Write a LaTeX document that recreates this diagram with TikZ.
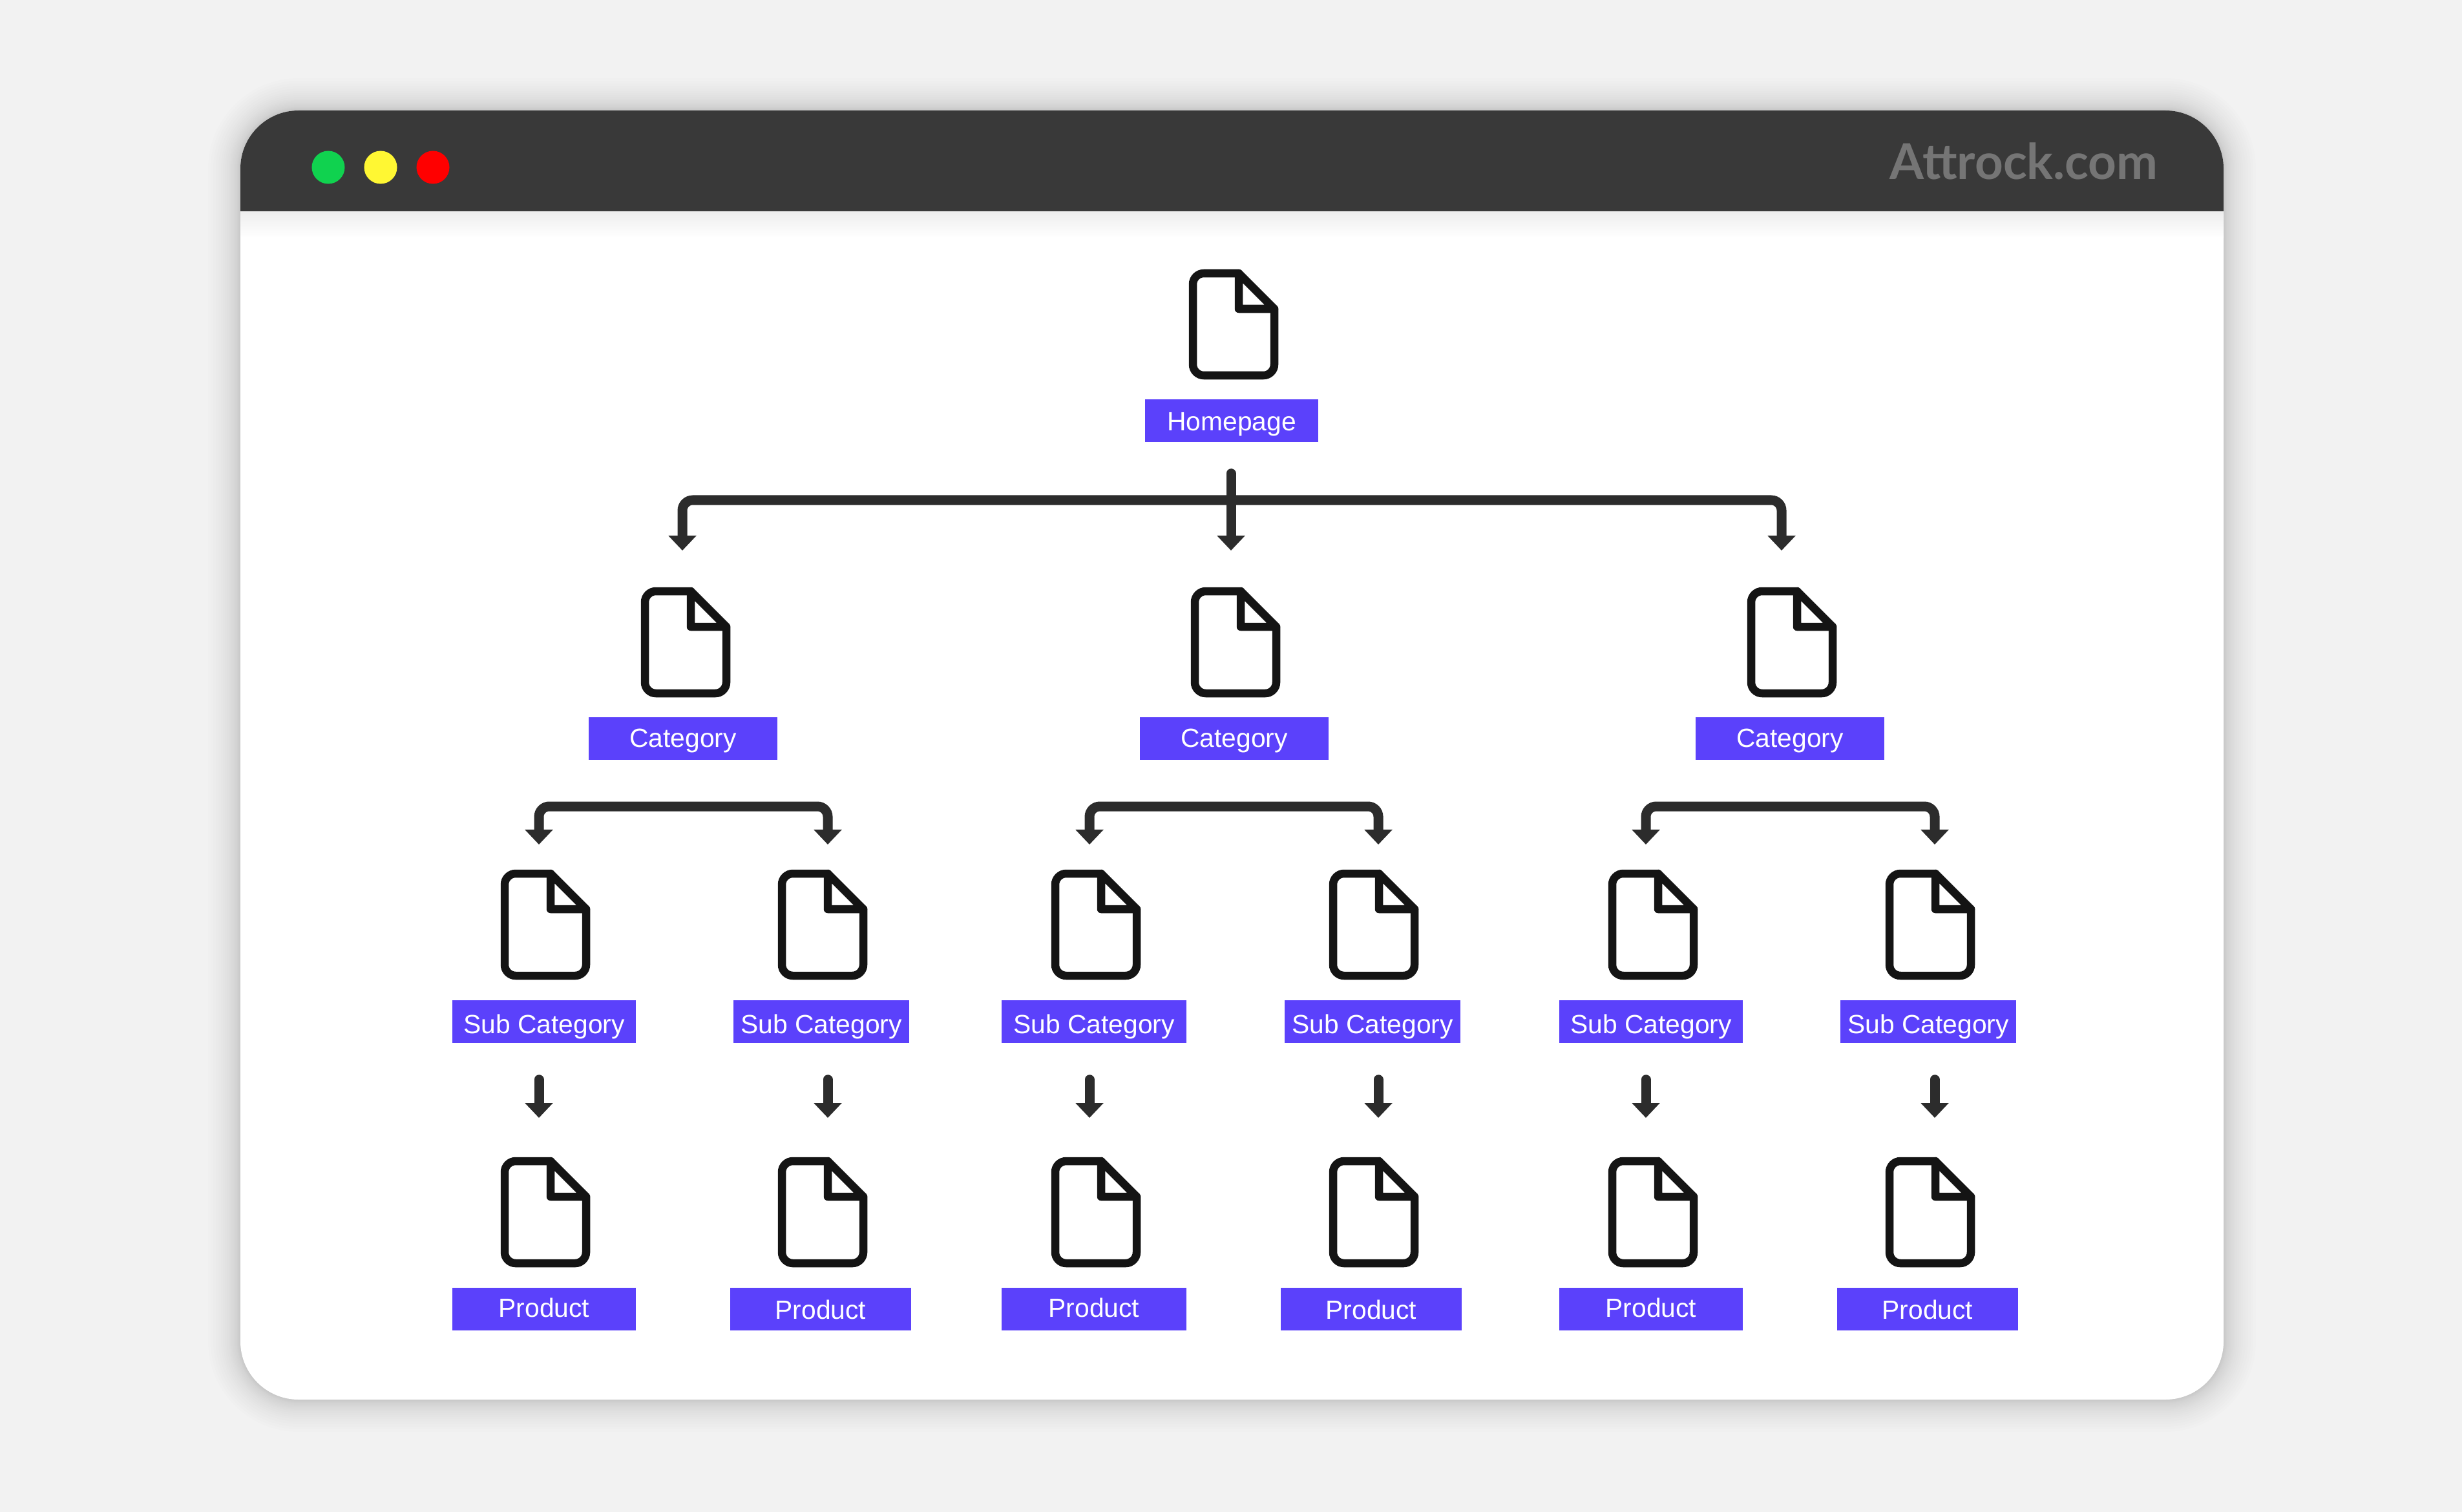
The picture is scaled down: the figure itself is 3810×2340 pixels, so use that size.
\documentclass[tikz,border=0pt]{standalone}
\usepackage{fontspec}
\setmainfont{Liberation Sans}
\newfontfamily\brandfont{Lato}
\usetikzlibrary{arrows.meta, positioning}
\definecolor{pagegray}{HTML}{F2F2F2}
\definecolor{barblack}{HTML}{393939}
\definecolor{brandgray}{HTML}{757575}
\definecolor{labelblue}{HTML}{5B41FB}
\definecolor{linegray}{HTML}{2C2C2C}
\definecolor{iconblack}{HTML}{141414}
\definecolor{dotgreen}{HTML}{10D24F}
\definecolor{dotyellow}{HTML}{FFF733}
\definecolor{dotred}{HTML}{FF0000}
\tikzset{
    labelbox/.style={fill=labelblue, text=white, inner sep=0pt, minimum height=0.66cm, font=\fontsize{11.6pt}{13pt}\selectfont, text height=0.33cm, text depth=0.02cm},
    catbox/.style={labelbox, minimum width=2.92cm, text height=0.30cm, text depth=0.04cm},
    subbox/.style={labelbox, text height=0.38cm, text depth=0.02cm},
    flow/.style={draw=linegray, line width=0.15cm, rounded corners=0.16cm, line cap=round, -{Triangle[width=0.42cm,length=0.23cm]}},
    flowboth/.style={flow, {Triangle[width=0.42cm,length=0.23cm]}-{Triangle[width=0.42cm,length=0.23cm]}},
    dot/.style={circle, minimum size=0.51cm, inner sep=0pt},
    fileicon/.pic={
        \draw[iconblack, line width=0.125cm, line cap=round, rounded corners=0.17cm] (63,-24) -- (63,79) -- (-63,79) -- (-63,-79) -- (8,-79);
        \draw[iconblack, line width=0.125cm, line join=round] (63,-24) -- (8,-79) -- (8,-24) -- cycle;
    }
}
\begin{document}
\begin{tikzpicture}[x=0.01cm, y=-0.01cm]
    \useasboundingbox (0,0) rectangle (3810,2340);
    \fill[pagegray] (0,0) rectangle (3810,2340);

    % window with its soft shadow
    \foreach \s [evaluate=\s as \r using 0.9+0.01*\s] in {1,2,3,4,5,6,8,10,12,14,16,18,21,24,27,30,34,38,42,46,50}
        \fill[black, opacity=0.0075, rounded corners=\r cm] (372-\s,171-\s) rectangle (3441+\s,2166+\s);
    \fill[white, rounded corners=0.9cm] (372,171) rectangle (3441,2166);
    \shade[top color=black!7, bottom color=white] (372,327) rectangle (3441,368);
    \begin{scope}
        \clip (372,171) rectangle (3441,327);
        \fill[barblack, rounded corners=0.9cm] (372,171) rectangle (3441,600);
    \end{scope}
    \node[dot, fill=dotgreen] (green) at (508,259) {};
    \node[dot, fill=dotyellow] (yellow) at (589,259) {};
    \node[dot, fill=dotred] (red) at (670,259) {};
    \node[text=brandgray, inner sep=0pt, font=\brandfont\bfseries\fontsize{21.7pt}{24pt}\selectfont] (brand) at (3132,249) {Attrock.com};

    % page icons
    \pic at (1909,502) {fileicon};
    \pic at (1061,994) {fileicon};
    \pic at (1912,994) {fileicon};
    \pic at (2773,994) {fileicon};
    \foreach \x in {844,1273,1696,2126,2558,2987} {
        \pic at (\x,1431) {fileicon};
        \pic at (\x,1876) {fileicon};
    }

    % labels
    \node[labelbox, minimum width=2.67cm] (home) at (1906,651) {Homepage};
    \node[catbox] (catA) at (1057,1143) {Category};
    \node[catbox] (catB) at (1910,1143) {Category};
    \node[catbox] (catC) at (2770,1143) {Category};
    \node[subbox, minimum width=2.84cm] (subA) at (842,1581) {Sub Category};
    \node[subbox, minimum width=2.72cm] (subB) at (1271,1581) {Sub Category};
    \node[subbox, minimum width=2.85cm] (subC) at (1693,1581) {Sub Category};
    \node[subbox, minimum width=2.72cm] (subD) at (2124,1581) {Sub Category};
    \node[subbox, minimum width=2.84cm] (subE) at (2555,1581) {Sub Category};
    \node[subbox, minimum width=2.72cm] (subF) at (2984,1581) {Sub Category};
    \node[labelbox, minimum width=2.84cm] (prodA) at (842,2026) {\raisebox{0.03cm}{Product}};
    \node[labelbox, minimum width=2.79cm] (prodB) at (1270,2026) {Product};
    \node[labelbox, minimum width=2.85cm] (prodC) at (1693,2026) {\raisebox{0.03cm}{Product}};
    \node[labelbox, minimum width=2.79cm] (prodD) at (2122,2026) {Product};
    \node[labelbox, minimum width=2.84cm] (prodE) at (2555,2026) {\raisebox{0.03cm}{Product}};
    \node[labelbox, minimum width=2.79cm] (prodF) at (2983,2026) {Product};

    % arrow ends
    \coordinate (busHome) at (1905,774);
    \coordinate (tipCatA) at (1056,852);
    \coordinate (tipCatB) at (1905,852);
    \coordinate (tipCatC) at (2757,852);
    \coordinate (tipSubA) at (834,1307);
    \coordinate (tipSubB) at (1281,1307);
    \coordinate (tipSubC) at (1686,1307);
    \coordinate (tipSubD) at (2133,1307);
    \coordinate (tipSubE) at (2547,1307);
    \coordinate (tipSubF) at (2994,1307);
    \coordinate (tipProdA) at (834,1730);
    \coordinate (tipProdB) at (1281,1730);
    \coordinate (tipProdC) at (1686,1730);
    \coordinate (tipProdD) at (2133,1730);
    \coordinate (tipProdE) at (2547,1730);
    \coordinate (tipProdF) at (2994,1730);
    \coordinate (busA) at (1057,1248);
    \coordinate (busB) at (1910,1248);
    \coordinate (busC) at (2770,1248);

    % connectors
    \draw[flow] (busHome) -| (tipCatA);
    \draw[flow] (busHome) -| (tipCatC);
    \draw[flow, shorten <=0.48cm] (home.south -| tipCatB) -- (tipCatB);
    \draw[flowboth] (tipSubA) |- (busA) -| (tipSubB);
    \draw[flowboth] (tipSubC) |- (busB) -| (tipSubD);
    \draw[flowboth] (tipSubE) |- (busC) -| (tipSubF);
    \draw[flow, shorten <=0.56cm] (subA.south -| tipProdA) -- (tipProdA);
    \draw[flow, shorten <=0.56cm] (subB.south -| tipProdB) -- (tipProdB);
    \draw[flow, shorten <=0.56cm] (subC.south -| tipProdC) -- (tipProdC);
    \draw[flow, shorten <=0.56cm] (subD.south -| tipProdD) -- (tipProdD);
    \draw[flow, shorten <=0.56cm] (subE.south -| tipProdE) -- (tipProdE);
    \draw[flow, shorten <=0.56cm] (subF.south -| tipProdF) -- (tipProdF);
\end{tikzpicture}
\end{document}
